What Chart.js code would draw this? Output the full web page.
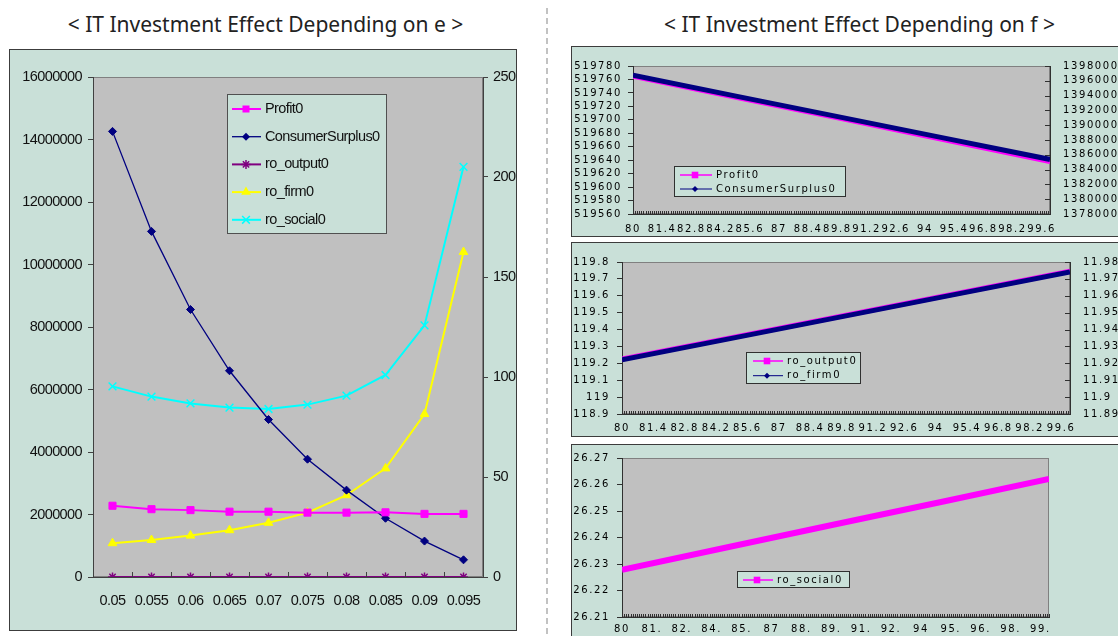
<!DOCTYPE html>
<html>
<head>
<meta charset="utf-8">
<script src="https://cdn.jsdelivr.net/npm/chart.js@4"></script>
<style>
  html, body { margin: 0; padding: 0; background: #ffffff; width: 1118px; height: 636px; overflow: hidden; position: relative; }
  .title { position: absolute; top: 14px; width: 560px; text-align: center; white-space: nowrap;
           font-family: "Noto Sans", "Open Sans", sans-serif; font-size: 21px; line-height: 21px; color: #222; }
  .panel { position: absolute; box-sizing: border-box; border: 1px solid #3c3c3c; background: #c9e0d8; }
  .panel canvas { position: absolute; left: 0; top: 0; }
  .sep { position: absolute; left: 546px; top: 8px; width: 2px; height: 628px;
         background: repeating-linear-gradient(to bottom, #c2c2c2 0 6px, transparent 6px 10px); }
</style>
</head>
<body>
<div class="title" style="left:-14.5px">&lt; IT Investment Effect Depending on e &gt;</div>
<div class="title" style="left:579.5px">&lt; IT Investment Effect Depending on f &gt;</div>
<div class="sep"></div>

<div class="panel" style="left:9px;top:49px;width:508px;height:582px"><canvas id="chartE" width="506" height="580"></canvas></div>
<div class="panel" style="left:571px;top:46px;width:560px;height:191px"><canvas id="chartF1" width="558" height="189"></canvas></div>
<div class="panel" style="left:571px;top:242px;width:560px;height:195px"><canvas id="chartF2" width="558" height="193"></canvas></div>
<div class="panel" style="left:571px;top:444px;width:560px;height:200px"><canvas id="chartF3" width="558" height="198"></canvas></div>

<script>
// ---- effect of e ----
const E_LEVELS = ['0.05', '0.055', '0.06', '0.065', '0.07', '0.075', '0.08', '0.085', '0.09', '0.095'];
const PROFIT_E = [2280000, 2170000, 2140000, 2090000, 2090000, 2060000, 2060000, 2070000, 2020000, 2020000];
const CONSUMER_SURPLUS_E = [14260000, 11060000, 8560000, 6600000, 5040000, 3770000, 2780000, 1880000, 1150000, 550000];
const RO_OUTPUT_E = [0, 0, 0, 0, 0, 0, 0, 0, 0, 0];
const RO_FIRM_E = [16.9, 18.5, 20.7, 23.4, 27.1, 32.2, 40.9, 54.3, 81.5, 162.5];
const RO_SOCIAL_E = [95.3, 90.2, 86.8, 84.7, 84.0, 86.2, 90.7, 101.0, 125.8, 205.1];

// ---- effect of f ----
const F_POINTS = [80, 85, 90, 95, 100];
const PROFIT_F = [519765, 519733, 519702, 519670, 519638];
const CONSUMER_SURPLUS_F = [1396750, 1393900, 1391060, 1388220, 1385375];
const RO_OUTPUT_F = [119.225, 119.355, 119.485, 119.615, 119.745];
const RO_FIRM_F = [11.9221, 11.9351, 11.9481, 11.9611, 11.9741];
const RO_SOCIAL_F = [26.2278, 26.2364, 26.2450, 26.2535, 26.2621];

const F_TICKS = [80, 81.4, 82.8, 84.2, 85.6, 87, 88.4, 89.8, 91.2, 92.6, 94, 95.4, 96.8, 98.2, 99.6];
const F_TICK_LABELS = ['80', '81.4', '82.8', '84.2', '85.6', '87', '88.4', '89.8', '91.2', '92.6', '94', '95.4', '96.8', '98.2', '99.6'];
const F_TICK_LABELS_SHORT = ['80', '81.', '82.', '84.', '85.', '87', '88.', '89.', '91.', '92.', '94', '95.', '96.', '98.', '99.'];

const LEFT_FONT = '"Liberation Sans", Arial, sans-serif';
const RIGHT_FONT = '"DejaVu Sans", Verdana, sans-serif';
const PANEL_BG = '#c9e0d8';
const PLOT_BG = '#c0c0c0';

// marker shapes shared by the legend boxes
function drawMark(ctx, style, x, y, r) {
  ctx.beginPath();
  switch (style) {
    case 'rect': ctx.fillRect(x - r, y - r, 2 * r, 2 * r); return;
    case 'rectRot':
      ctx.moveTo(x, y - r); ctx.lineTo(x + r, y); ctx.lineTo(x, y + r); ctx.lineTo(x - r, y); ctx.closePath(); ctx.fill(); return;
    case 'triangle':
      ctx.moveTo(x, y - r); ctx.lineTo(x + r * 0.87, y + r * 0.5); ctx.lineTo(x - r * 0.87, y + r * 0.5); ctx.closePath(); ctx.fill(); return;
    case 'crossRot': {
      const d = r * 0.7;
      ctx.moveTo(x - d, y - d); ctx.lineTo(x + d, y + d); ctx.moveTo(x + d, y - d); ctx.lineTo(x - d, y + d); ctx.stroke(); return;
    }
    case 'star': {
      const d = r * 0.7;
      ctx.moveTo(x, y - r); ctx.lineTo(x, y + r); ctx.moveTo(x - r, y); ctx.lineTo(x + r, y);
      ctx.moveTo(x - d, y - d); ctx.lineTo(x + d, y + d); ctx.moveTo(x + d, y - d); ctx.lineTo(x - d, y + d); ctx.stroke(); return;
    }
  }
}

// grey plot area with its frame
const plotFrame = {
  id: 'plotFrame',
  beforeDraw(chart, args, o) {
    const { ctx, chartArea: a } = chart;
    ctx.save();
    ctx.fillStyle = o.fill;
    ctx.fillRect(a.left, a.top, a.right - a.left, a.bottom - a.top);
    ctx.strokeStyle = o.stroke;
    ctx.lineWidth = 1;
    ctx.strokeRect(a.left + 0.5, a.top + 0.5, a.right - a.left - 1, a.bottom - a.top - 1);
    ctx.restore();
  }
};

// letter spacing applied to every text of a chart
const textSpacing = {
  id: 'textSpacing',
  beforeUpdate(chart, args, o) { if ('letterSpacing' in chart.ctx) chart.ctx.letterSpacing = o.value || '0px'; },
  beforeDraw(chart, args, o) { if ('letterSpacing' in chart.ctx) chart.ctx.letterSpacing = o.value || '0px'; }
};

// tick marks pointing into the plot area
const innerTicks = {
  id: 'innerTicks',
  afterDraw(chart, args, o) {
    const { ctx, chartArea: a } = chart;
    ctx.save();
    ctx.strokeStyle = o.color || '#333';
    ctx.lineWidth = 1;
    ctx.beginPath();
    (o.marks || []).forEach(m => {
      const s = chart.scales[m.scale];
      const pix = [];
      if (m.mode === 'bounds') {
        for (let i = 0; i <= s.ticks.length; i++) pix.push(s.getPixelForValue(i - 0.5));
      } else if (m.mode === 'ticks') {
        s.ticks.forEach(t => pix.push(s.getPixelForValue(t.value)));
      } else if (m.mode === 'step') {
        const n = Math.round((s.max - s.min) / m.step);
        for (let k = 0; k <= n; k++) pix.push(s.getPixelForValue(s.min + k * m.step));
      }
      pix.forEach(p => {
        const q = Math.round(p) + 0.5;
        if (s.isHorizontal()) { ctx.moveTo(q, a.bottom); ctx.lineTo(q, a.bottom - m.len); }
        else if (m.side === 'right') { ctx.moveTo(a.right, q); ctx.lineTo(a.right - m.len, q); }
        else { ctx.moveTo(a.left, q); ctx.lineTo(a.left + m.len, q); }
      });
    });
    ctx.stroke();
    ctx.restore();
  }
};

// framed legend box placed inside the plot
const boxLegend = {
  id: 'boxLegend',
  afterDraw(chart, args, o) {
    const ctx = chart.ctx;
    ctx.save();
    ctx.fillStyle = o.fill;
    ctx.fillRect(o.x, o.y, o.w, o.h);
    ctx.strokeStyle = o.stroke;
    ctx.lineWidth = 1;
    ctx.strokeRect(o.x + 0.5, o.y + 0.5, o.w, o.h);
    ctx.font = o.font;
    ctx.textBaseline = 'middle';
    ctx.textAlign = 'left';
    chart.data.datasets.forEach((ds, i) => {
      const y = o.rowY + i * o.rowGap;
      ctx.strokeStyle = ds.borderColor;
      ctx.fillStyle = ds.borderColor;
      ctx.lineWidth = ds.legendLineWidth || 1;
      ctx.beginPath(); ctx.moveTo(o.lineX0, y); ctx.lineTo(o.lineX1, y); ctx.stroke();
      ctx.lineWidth = ds.legendMarkWidth || 1.5;
      drawMark(ctx, ds.legendMark, o.markX, y, ds.legendRadius);
      ctx.fillStyle = o.color;
      ctx.fillText(ds.label, o.textX, y + (o.textDy || 0));
    });
    ctx.restore();
  }
};

const numLabel = v => String(Number(Number(v).toFixed(4)));

// ---------- left chart ----------
const leftFont = { family: LEFT_FONT, size: 14.5 };
new Chart(document.getElementById('chartE'), {
  type: 'line',
  data: {
    labels: E_LEVELS,
    datasets: [
      { label: 'Profit0', data: PROFIT_E, yAxisID: 'yL', borderColor: '#ff00ff', backgroundColor: '#ff00ff',
        borderWidth: 2, pointStyle: 'rect', pointRadius: 5, pointBorderWidth: 1,
        legendMark: 'rect', legendRadius: 3.5, legendLineWidth: 2 },
      { label: 'ConsumerSurplus0', data: CONSUMER_SURPLUS_E, yAxisID: 'yL', borderColor: '#000080', backgroundColor: '#000080',
        borderWidth: 1.3, pointStyle: 'rectRot', pointRadius: 4, pointBorderWidth: 1,
        legendMark: 'rectRot', legendRadius: 4, legendLineWidth: 1.3 },
      { label: 'ro_output0', data: RO_OUTPUT_E, yAxisID: 'yL', borderColor: '#800080', backgroundColor: '#800080',
        borderWidth: 2, pointStyle: 'star', pointRadius: 4.5, pointBorderWidth: 1.5,
        legendMark: 'star', legendRadius: 4.5, legendLineWidth: 2 },
      { label: 'ro_firm0', data: RO_FIRM_E, yAxisID: 'yR', borderColor: '#ffff00', backgroundColor: '#ffff00',
        borderWidth: 2, pointStyle: 'triangle', pointRadius: 5, pointBorderWidth: 1,
        legendMark: 'triangle', legendRadius: 5.5, legendLineWidth: 2 },
      { label: 'ro_social0', data: RO_SOCIAL_E, yAxisID: 'yR', borderColor: '#00ffff', backgroundColor: '#00ffff',
        borderWidth: 2, pointStyle: 'crossRot', pointRadius: 5.5, pointBorderWidth: 1.5,
        legendMark: 'crossRot', legendRadius: 5.5, legendLineWidth: 2 }
    ]
  },
  options: {
    responsive: false, animation: false, devicePixelRatio: 1,
    layout: { padding: { top: 27, left: 0, right: 0, bottom: 0 } },
    elements: { line: { tension: 0 } },
    plugins: {
      legend: { display: false }, tooltip: { enabled: false },
      textSpacing: { value: '-0.6px' },
      plotFrame: { fill: PLOT_BG, stroke: '#808080' },
      innerTicks: { color: '#404040', marks: [{ scale: 'x', mode: 'bounds', len: 5 }] },
      boxLegend: { x: 217, y: 44, w: 159, h: 139, fill: PANEL_BG, stroke: '#505050', color: '#111',
                   font: '14.5px ' + LEFT_FONT, rowY: 59, rowGap: 27.7, lineX0: 222, lineX1: 251, markX: 236, textX: 255 }
    },
    scales: {
      x: {
        type: 'category', offset: true,
        grid: { display: false, drawTicks: false, tickLength: 0 },
        border: { display: true, color: '#404040' },
        ticks: { font: leftFont, color: '#111', padding: 15, autoSkip: false, maxRotation: 0 },
        afterFit(s) { s.height = 53; }
      },
      yL: {
        position: 'left', min: 0, max: 16000000,
        ticks: { stepSize: 2000000, callback: numLabel, font: leftFont, color: '#111', padding: 6, autoSkip: false },
        grid: { drawOnChartArea: false, drawTicks: true, tickLength: 5, color: '#404040' },
        border: { display: true, color: '#404040' },
        afterFit(s) { s.width = 83; }
      },
      yR: {
        position: 'right', min: 0, max: 250,
        ticks: { stepSize: 50, callback: numLabel, font: leftFont, color: '#111', padding: 5, autoSkip: false },
        grid: { drawOnChartArea: false, drawTicks: true, tickLength: 5, color: '#404040' },
        border: { display: true, color: '#404040' },
        afterFit(s) { s.width = 33; }
      }
    }
  },
  plugins: [textSpacing, plotFrame, innerTicks, boxLegend]
});

// ---------- right panels ----------
const rightFont = { family: RIGHT_FONT, size: 10 };
const pairs = (ys) => F_POINTS.map((f, i) => ({ x: f, y: ys[i] }));

function fAxis(labels, height, pad) {
  return {
    type: 'linear', min: 80, max: 100,
    afterBuildTicks(s) { s.ticks = F_TICKS.map(v => ({ value: v })); },
    ticks: { callback: (v, i) => labels[i], font: rightFont, color: '#000', padding: pad, autoSkip: false, maxRotation: 0 },
    grid: { display: false, drawTicks: false, tickLength: 0 },
    border: { display: true, color: '#303030' },
    afterFit(s) { s.height = height; }
  };
}
function leftAxis(min, max, step, width, pad) {
  return {
    position: 'left', min, max,
    ticks: { stepSize: step, callback: numLabel, font: rightFont, color: '#000', padding: pad, autoSkip: false },
    grid: { drawOnChartArea: false, drawTicks: true, tickLength: 5, color: '#303030' },
    border: { display: true, color: '#303030' },
    afterFit(s) { s.width = width; }
  };
}
function rightAxis(min, max, step, width, pad) {
  return {
    position: 'right', min, max,
    ticks: { stepSize: step, callback: numLabel, font: rightFont, color: '#000', padding: pad, autoSkip: false },
    grid: { display: false, drawTicks: false, tickLength: 0 },
    border: { display: true, color: '#303030' },
    afterFit(s) { s.width = width; }
  };
}
function baseOptions(padding, legend, scales, rightTicks) {
  const marks = [{ scale: 'x', mode: 'step', step: 0.1, len: 3 }];
  if (rightTicks) marks.push({ scale: 'yR', mode: 'ticks', side: 'right', len: 5 });
  return {
    responsive: false, animation: false, devicePixelRatio: 1,
    layout: { padding },
    elements: { line: { tension: 0 }, point: { radius: 0 } },
    plugins: {
      legend: { display: false }, tooltip: { enabled: false },
      textSpacing: { value: '1.6px' },
      plotFrame: { fill: PLOT_BG, stroke: '#808080' },
      innerTicks: { color: '#303030', marks },
      boxLegend: Object.assign({ fill: PANEL_BG, stroke: '#303030', color: '#000', font: '10px ' + RIGHT_FONT }, legend)
    },
    scales
  };
}

new Chart(document.getElementById('chartF1'), {
  type: 'line',
  data: {
    datasets: [
      { label: 'Profit0', data: pairs(PROFIT_F), yAxisID: 'yL', borderColor: '#ff00ff', borderWidth: 5, order: 1,
        legendMark: 'rect', legendRadius: 3.3, legendLineWidth: 1.5 },
      { label: 'ConsumerSurplus0', data: pairs(CONSUMER_SURPLUS_F), yAxisID: 'yR', borderColor: '#000080', borderWidth: 5, order: 0,
        legendMark: 'rectRot', legendRadius: 3, legendLineWidth: 1 }
    ]
  },
  options: baseOptions({ top: 7, left: 0, right: 0, bottom: 0 },
    { x: 102, y: 119, w: 171, h: 30, rowY: 128, rowGap: 14, lineX0: 108, lineX1: 140, markX: 123, textX: 144 },
    { x: fAxis(F_TICK_LABELS, 22, 9),
      yL: leftAxis(519560, 519780, 20, 61, 6),
      yR: rightAxis(1378000, 1398000, 2000, 80, 13) }, true),
  plugins: [textSpacing, plotFrame, innerTicks, boxLegend]
});

new Chart(document.getElementById('chartF2'), {
  type: 'line',
  data: {
    datasets: [
      { label: 'ro_output0', data: pairs(RO_OUTPUT_F), yAxisID: 'yL', borderColor: '#ff00ff', borderWidth: 5, order: 1,
        legendMark: 'rect', legendRadius: 3.3, legendLineWidth: 1.5 },
      { label: 'ro_firm0', data: pairs(RO_FIRM_F), yAxisID: 'yR', borderColor: '#000080', borderWidth: 5, order: 0,
        legendMark: 'rectRot', legendRadius: 3, legendLineWidth: 1 }
    ]
  },
  options: baseOptions({ top: 8, left: 0, right: 0, bottom: 0 },
    { x: 174, y: 109, w: 114, h: 31, rowY: 118, rowGap: 14.7, lineX0: 181, lineX1: 211, markX: 195, textX: 215 },
    { x: fAxis(F_TICK_LABELS, 22, 8),
      yL: leftAxis(118.9, 119.8, 0.1, 50, 7),
      yR: rightAxis(11.89, 11.98, 0.01, 60, 13) }, true),
  plugins: [textSpacing, plotFrame, innerTicks, boxLegend]
});

new Chart(document.getElementById('chartF3'), {
  type: 'line',
  data: {
    datasets: [
      { label: 'ro_social0', data: pairs(RO_SOCIAL_F), yAxisID: 'yL', borderColor: '#ff00ff', borderWidth: 6,
        legendMark: 'rect', legendRadius: 3.3, legendLineWidth: 1.5 }
    ]
  },
  options: baseOptions({ top: 7, left: 0, right: 81, bottom: 0 },
    { x: 165, y: 126, w: 112, h: 16, rowY: 135, rowGap: 14, lineX0: 171, lineX1: 201, markX: 185, textX: 205 },
    { x: fAxis(F_TICK_LABELS_SHORT, 26, 6),
      yL: leftAxis(26.21, 26.27, 0.01, 50, 7) }, false),
  plugins: [textSpacing, plotFrame, innerTicks, boxLegend]
});
</script>
</body>
</html>
